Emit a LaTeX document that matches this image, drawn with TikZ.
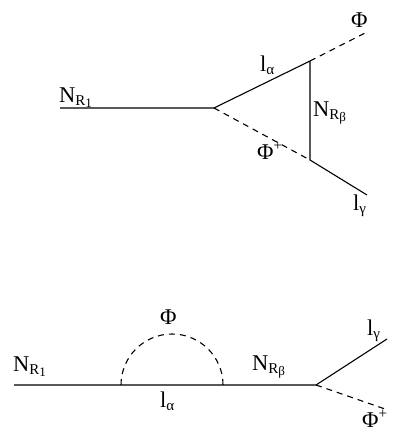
\documentclass[tikz,border=0pt]{standalone}
\usepackage{fontspec}
\setmainfont{Liberation Serif}
\usepackage{tikz}
\usetikzlibrary{calc}

\newcommand{\lsub}[1]{\raisebox{-3pt}{\fontsize{15}{17}\selectfont #1}}
\newcommand{\llsub}[1]{\raisebox{-2pt}{\fontsize{13}{15}\selectfont #1}}
\newcommand{\lsup}[1]{\raisebox{9pt}{\fontsize{15}{17}\selectfont #1}}

\tikzset{
    fermion/.style={line width=1.1pt},
    scalar/.style={line width=1.1pt, dash pattern=on 6pt off 5pt},
    lbl/.style={anchor=base west, inner sep=0pt, font=\fontsize{22.5}{26}\selectfont}
}

\begin{document}
\begin{tikzpicture}[x=1pt,y=-1pt]
    \useasboundingbox (0,0) rectangle (401,443);
    % Vertex diagram
    \coordinate (inA) at (60,108);
    \coordinate (vA) at (214,108);
    \coordinate (vB) at (310,61);
    \coordinate (vC) at (310,160);
    \coordinate (outPhi) at (367,32);
    \coordinate (outL) at (367,195);
    \draw[fermion] (inA) -- (vA) -- (vB) -- (vC) -- (outL);
    \draw[scalar] (vA) -- (vC);
    \draw[scalar] (vB) -- (outPhi);
    \node[lbl] (nR1a) at (59,103) {N\lsub{R\llsub{1}}};
    \node[lbl] (la) at (260,72) {l\lsub{α}};
    \node[lbl] (phia) at (351,28) {Φ};
    \node[lbl] (nRba) at (313,117) {N\lsub{R\llsub{β}}};
    \node[lbl] (phipa) at (257,160) {Φ\lsup{+}};
    \node[lbl] (lga) at (353,211) {l\lsub{γ}};
    % Self-energy diagram
    \coordinate (inB) at (14,385);
    \coordinate (loopL) at (121,385);
    \coordinate (loopR) at (223,385);
    \coordinate (vD) at (316,385);
    \coordinate (outLb) at (387,339);
    \coordinate (outPhib) at (385,409);
    \draw[fermion] (inB) -- (loopL) -- (loopR) -- (vD) -- (outLb);
    \draw[scalar] (loopL) arc (180:360:51);
    \draw[scalar] (vD) -- (outPhib);
    \node[lbl] (nR1b) at (13,371) {N\lsub{R\llsub{1}}};
    \node[lbl] (phib) at (160,324) {Φ};
    \node[lbl] (lb) at (160,407) {l\lsub{α}};
    \node[lbl] (nRbb) at (252,370) {N\lsub{R\llsub{β}}};
    \node[lbl] (lgb) at (367,335) {l\lsub{γ}};
    \node[lbl] (phipb) at (362,427) {Φ\lsup{+}};
\end{tikzpicture}
\end{document}
